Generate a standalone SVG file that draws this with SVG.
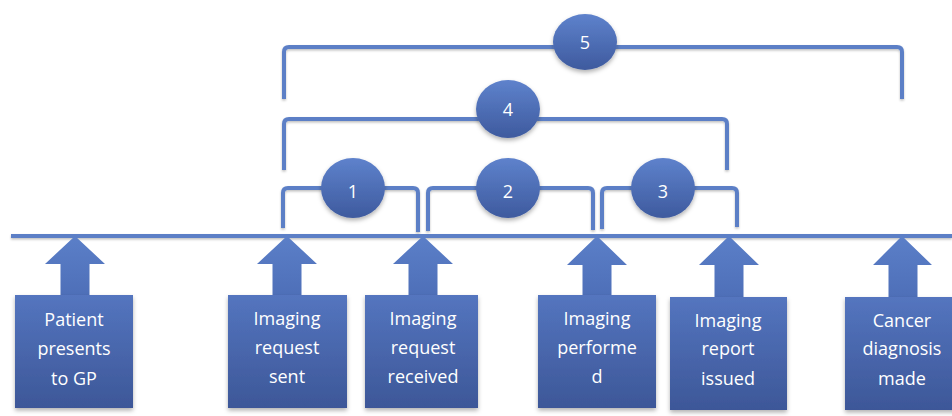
<svg xmlns="http://www.w3.org/2000/svg" width="952" height="416" viewBox="0 0 952 416">
  <defs>
    <linearGradient id="gCircle" x1="0" y1="0" x2="0" y2="1">
      <stop offset="0" stop-color="#5e82cc"/>
      <stop offset="1" stop-color="#3e5a9e"/>
    </linearGradient>
    <linearGradient id="gBox" x1="0" y1="0" x2="0" y2="1">
      <stop offset="0" stop-color="#5475bf"/>
      <stop offset="1" stop-color="#3d5798"/>
    </linearGradient>
    <linearGradient id="gArrow" x1="0" y1="0" x2="0" y2="1">
      <stop offset="0" stop-color="#5b7fc8"/>
      <stop offset="1" stop-color="#4e6fb8"/>
    </linearGradient>
    <filter id="shadow" x="-20%" y="-20%" width="140%" height="150%">
      <feDropShadow dx="0" dy="2.5" stdDeviation="2" flood-color="#000" flood-opacity="0.3"/>
    </filter>
    <filter id="lineShadow" x="-5%" y="-50%" width="110%" height="300%">
      <feDropShadow dx="0" dy="1.5" stdDeviation="1" flood-color="#000" flood-opacity="0.25"/>
    </filter>
  </defs>
  <style>
    .line { fill: none; stroke: #5b7fc6; stroke-width: 4; }
    .circle { fill: url(#gCircle); filter: url(#shadow); }
    .box { fill: url(#gBox); filter: url(#shadow); }
    .arrow { fill: url(#gArrow); }
    .num { font-family: "Open Sans", "DejaVu Sans", sans-serif; font-size: 18px; fill: #ffffff; text-anchor: middle; }
    .lbl { font-family: "Open Sans", "DejaVu Sans", sans-serif; font-size: 18px; fill: #ffffff; text-anchor: middle; }
  </style>

  <g id="connectors" filter="url(#lineShadow)">
    <line class="line" x1="11" y1="236" x2="952" y2="236"/>
    <path class="line" d="M284,99 V52 Q284,47 289,47 H897 Q902,47 902,52 V99"/>
    <path class="line" d="M284,170 V124 Q284,119 289,119 H722 Q727,119 727,124 V170"/>
    <path class="line" d="M283,228 V193 Q283,188 288,188 H413 Q418,188 418,193 V232"/>
    <path class="line" d="M428,231 V193 Q428,188 433,188 H588 Q593,188 593,193 V230"/>
    <path class="line" d="M602,229 V193 Q602,188 607,188 H732 Q737,188 737,193 V227"/>
  </g>

  <g id="n5"><ellipse class="circle" cx="585" cy="42" rx="32" ry="28"/><text class="num" x="585" y="49">5</text></g>
  <g id="n4"><ellipse class="circle" cx="508" cy="109" rx="32" ry="29"/><text class="num" x="508" y="116">4</text></g>
  <g id="n1"><ellipse class="circle" cx="353" cy="188" rx="32" ry="30"/><text class="num" x="353" y="198">1</text></g>
  <g id="n2"><ellipse class="circle" cx="508" cy="188" rx="32" ry="30"/><text class="num" x="508" y="198">2</text></g>
  <g id="n3"><ellipse class="circle" cx="663" cy="188" rx="32" ry="30"/><text class="num" x="663" y="198">3</text></g>

  <g id="e1">
    <path class="arrow" d="M75,236 L105,264 H89.5 V296 H60.5 V264 H45 Z"/>
    <rect class="box" x="15" y="295" width="118" height="113"/>
    <text class="lbl" x="74" y="326">Patient</text>
    <text class="lbl" x="74" y="355">presents</text>
    <text class="lbl" x="74" y="385">to GP</text>
  </g>
  <g id="e2">
    <path class="arrow" d="M287,236 L317,264 H301.5 V296 H272.5 V264 H257 Z"/>
    <rect class="box" x="228" y="295" width="119" height="113"/>
    <text class="lbl" x="287" y="325">Imaging</text>
    <text class="lbl" x="287" y="354">request</text>
    <text class="lbl" x="287" y="383">sent</text>
  </g>
  <g id="e3">
    <path class="arrow" d="M423,236 L453,264 H437.5 V296 H408.5 V264 H393 Z"/>
    <rect class="box" x="365" y="295" width="113" height="113"/>
    <text class="lbl" x="423" y="325">Imaging</text>
    <text class="lbl" x="423" y="354">request</text>
    <text class="lbl" x="423" y="383">received</text>
  </g>
  <g id="e4">
    <path class="arrow" d="M597,236 L627,265 H611.5 V296 H582.5 V265 H567 Z"/>
    <rect class="box" x="538" y="295" width="118" height="113"/>
    <text class="lbl" x="597" y="325">Imaging</text>
    <text class="lbl" x="597" y="354">performe</text>
    <text class="lbl" x="597" y="383">d</text>
  </g>
  <g id="e5">
    <path class="arrow" d="M729,236 L759,265 H743.5 V298 H714.5 V265 H699 Z"/>
    <rect class="box" x="670" y="297" width="117" height="113"/>
    <text class="lbl" x="728" y="327">Imaging</text>
    <text class="lbl" x="728" y="355">report</text>
    <text class="lbl" x="728" y="385">issued</text>
  </g>
  <g id="e6">
    <path class="arrow" d="M902,236 L932,265 H917.5 V298 H888.5 V265 H873 Z"/>
    <rect class="box" x="845" y="297" width="118" height="113"/>
    <text class="lbl" x="902" y="327">Cancer</text>
    <text class="lbl" x="902" y="355">diagnosis</text>
    <text class="lbl" x="902" y="385">made</text>
  </g>
</svg>
